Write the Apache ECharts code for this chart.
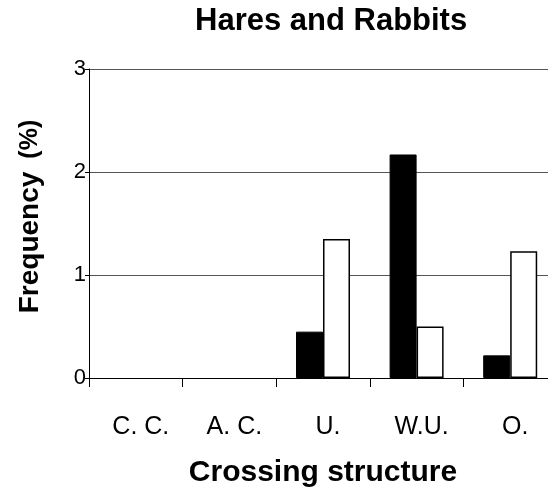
<!DOCTYPE html>
<html>
<head>
<meta charset="utf-8">
<script src="https://cdn.jsdelivr.net/npm/echarts@6/dist/echarts.min.js"></script>
<style>
  html, body { margin: 0; padding: 0; background: #fff; }
  #chart { width: 548px; height: 487px; }
</style>
</head>
<body>
<div id="chart"></div>
<script>
// crossing structures
var categories = ["C. C.", "A. C.", "U.", "W.U.", "O."];
// black bars / white bars (%)
var blackValues = [0, 0, 0.45, 2.17, 0.22];
var whiteValues = [0, 0, 1.35, 0.50, 1.23];
var yTicks = [0, 1, 2, 3];

var font = "Liberation Sans, Arial, sans-serif";
var chart = echarts.init(document.getElementById("chart"));

// zero bars are not drawn in the original
function noZero(arr) {
  return arr.map(function (v) { return v === 0 ? "-" : v; });
}

chart.setOption({
  animation: false,
  backgroundColor: "#fff",
  textStyle: { fontFamily: font, color: "#000" },
  title: {
    text: "Hares and Rabbits",
    left: 195,
    top: 6,
    padding: 0,
    textStyle: { fontFamily: font, fontSize: 31, fontWeight: "bold", color: "#000" }
  },
  grid: { left: 89, top: 69, right: -9, bottom: 109, containLabel: false, outerBoundsMode: "none" },
  xAxis: {
    type: "category",
    data: categories,
    name: "Crossing structure",
    nameLocation: "middle",
    nameGap: 80,
    nameTextStyle: { fontFamily: font, fontSize: 30, fontWeight: "bold", color: "#000" },
    axisLine: { lineStyle: { color: "#000", width: 1 } },
    axisTick: { show: true, length: 9, lineStyle: { color: "#000" } },
    axisLabel: { margin: 37, fontSize: 25, color: "#000", fontFamily: font, padding: [0, 0, 0, 10] },
    splitLine: { show: false }
  },
  yAxis: {
    type: "value",
    min: yTicks[0],
    max: yTicks[yTicks.length - 1],
    interval: 1,
    name: "{a|Frequency}{b|(%)}",
    nameLocation: "middle",
    nameGap: 45,
    nameTextStyle: {
      rich: {
        a: { fontFamily: font, fontSize: 28, fontWeight: "bold", color: "#000", padding: [0, 0, 0, 14] },
        b: { fontFamily: font, fontSize: 25, fontWeight: "bold", color: "#000", padding: [0, 0, 0, 13] }
      }
    },
    axisLine: { show: true, lineStyle: { color: "#000", width: 1 } },
    axisTick: { show: true, length: 4, lineStyle: { color: "#000" } },
    axisLabel: { margin: 3, fontSize: 22, color: "#000", fontFamily: font },
    splitLine: { show: true, lineStyle: { color: "#555", width: 1 } }
  },
  series: [
    {
      type: "bar",
      data: noZero(blackValues),
      barWidth: 27,
      barGap: "0%",
      itemStyle: { color: "#000", borderColor: "#000", borderWidth: 1 }
    },
    {
      type: "bar",
      data: noZero(whiteValues),
      barWidth: 27,
      barGap: "0%",
      itemStyle: { color: "#fff", borderColor: "#000", borderWidth: 1.5 }
    }
  ]
});
</script>
</body>
</html>
